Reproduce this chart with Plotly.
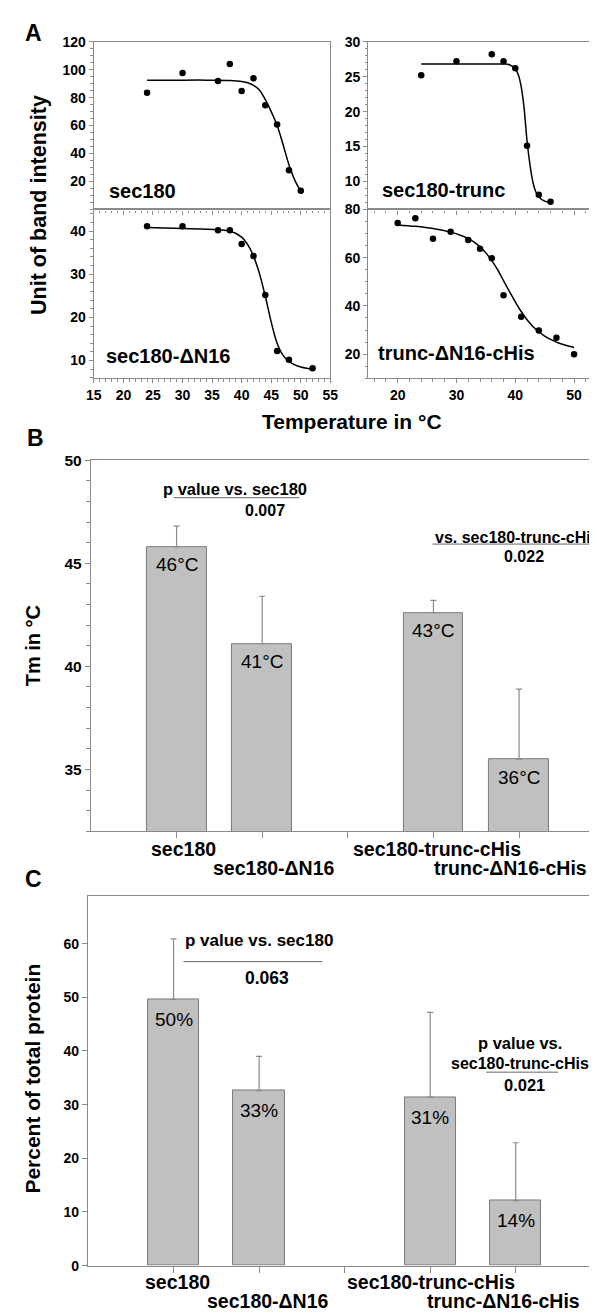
import plotly.graph_objects as go

W, H = 597, 1313
FONT = "Arial, Liberation Sans, sans-serif"
GRAY = "#8a8a8a"

# ---------------- Panel A data ----------------
t_sec180 = [24, 30, 36, 38, 40, 42, 44, 46, 48, 50]
v_sec180 = [83.5, 97.6, 91.8, 104, 84.7, 93.9, 74.6, 60.7, 28, 13.4]
fit_t_sec180 = [24, 30, 34, 38, 40, 41, 42, 43, 44, 45, 46, 47, 48, 49, 50]
fit_v_sec180 = [92.5, 92.5, 92.5, 92.3, 91.6, 90.6, 88.8, 85.5, 78.5, 70.0, 60.0, 46.5, 32.0, 20.8, 13.0]

t_trunc = [24, 30, 36, 38, 40, 42, 44, 46]
v_trunc = [25.2, 27.2, 28.2, 27.2, 26.2, 15.1, 8.1, 7.1]
fit_t_trunc = [24, 30, 36, 38, 39, 40, 40.5, 41, 41.5, 42, 42.5, 43, 43.5, 44, 45, 46]
fit_v_trunc = [26.8, 26.8, 26.8, 26.8, 26.7, 26.1, 25.3, 23.6, 20.5, 15.8, 12.4, 9.9, 8.5, 7.8, 7.2, 7.0]

t_dn16 = [24, 30, 36, 38, 40, 42, 44, 46, 48, 52]
v_dn16 = [41.1, 41.1, 40.2, 40.2, 37.0, 34.2, 25.2, 12.2, 10.2, 8.2]
fit_t_dn16 = [24, 30, 36, 38, 40, 41, 42, 43, 44, 45, 46, 47, 48, 49, 50, 51, 52]
fit_v_dn16 = [40.8, 40.6, 40.3, 40.0, 38.6, 36.9, 34.2, 30.2, 24.9, 18.9, 14.0, 11.2, 9.8, 9.0, 8.5, 8.2, 8.0]

t_tdc = [20, 23, 26, 29, 32, 34, 36, 38, 41, 44, 47, 50]
v_tdc = [74.4, 76.4, 67.9, 70.8, 67.3, 63.7, 59.8, 44.4, 35.5, 29.8, 26.8, 20.0]
fit_t_tdc = [20, 23, 26, 29, 31, 32, 33, 34, 35, 36, 37, 38, 39, 40, 41, 42, 43, 44, 45, 46, 47, 48, 49, 50]
fit_v_tdc = [73.6, 73.0, 72.1, 70.6, 69.0, 68.0, 66.5, 64.5, 62.0, 58.8, 55.0, 50.5, 46.0, 41.7,
             37.7, 34.3, 31.5, 29.3, 27.5, 26.1, 25.0, 24.1, 23.4, 22.8]

panel_names = ["sec180", "sec180-ΔN16", "sec180-trunc", "trunc-ΔN16-cHis"]

# ---------------- Panels B / C data ----------------
bar_cats = ["sec180", "sec180-ΔN16", "sec180-trunc-cHis", "trunc-ΔN16-cHis"]
bar_slots = [0, 1, 3, 4]
tm_vals = [45.8, 41.1, 42.6, 35.5]
tm_err = [1.0, 2.3, 0.6, 3.4]
tm_labels = ["46°C", "41°C", "43°C", "36°C"]
pct_vals = [49.6, 32.6, 31.4, 12.1]
pct_err = [11.3, 6.4, 15.8, 10.8]
pct_labels = ["50%", "33%", "31%", "14%"]

# label layout (styling only): staggered rows and small horizontal nudges in px
label_rows = [0, 1, 0, 1]
label_nudge = [7, 12, 4, -9]


def fx(px):
    return px / W


def fy(py):
    return 1 - py / H


def dom_x(a, b):
    return [a / W, b / W]


def dom_y(top, bottom):
    return [1 - bottom / H, 1 - top / H]


fig = go.Figure()

sets = [
    (t_sec180, v_sec180, fit_t_sec180, fit_v_sec180, "x", "y"),
    (t_dn16, v_dn16, fit_t_dn16, fit_v_dn16, "x2", "y2"),
    (t_trunc, v_trunc, fit_t_trunc, fit_v_trunc, "x3", "y3"),
    (t_tdc, v_tdc, fit_t_tdc, fit_v_tdc, "x4", "y4"),
]
for t, v, ft, fv, xa, ya in sets:
    fig.add_trace(go.Scatter(x=ft, y=fv, mode="lines", line=dict(color="black", width=1.5, shape="spline"),
                             xaxis=xa, yaxis=ya, showlegend=False, hoverinfo="skip"))
    fig.add_trace(go.Scatter(x=t, y=v, mode="markers", marker=dict(color="black", size=6.5),
                             xaxis=xa, yaxis=ya, showlegend=False))

bar_style = dict(marker=dict(color="#c0c0c0", line=dict(color="#7a7a7a", width=1)), showlegend=False)
fig.add_trace(go.Bar(x=bar_slots, y=tm_vals, width=0.7, xaxis="x5", yaxis="y5",
                     error_y=dict(type="data", symmetric=False, array=tm_err, arrayminus=[0] * len(tm_err),
                                  color=GRAY, thickness=1.2, width=3), **bar_style))
fig.add_trace(go.Bar(x=bar_slots, y=pct_vals, width=0.6, xaxis="x6", yaxis="y6",
                     error_y=dict(type="data", symmetric=False, array=pct_err, arrayminus=[0] * len(pct_err),
                                  color=GRAY, thickness=1.2, width=3), **bar_style))


def ax(**kw):
    base = dict(showgrid=False, zeroline=False, showline=True, linecolor=GRAY, linewidth=1.3,
                ticks="outside", ticklen=4, tickcolor=GRAY, tickwidth=1,
                tickfont=dict(family=FONT, size=14, color="black", weight="bold"), fixedrange=True)
    base.update(kw)
    return base


def minor(d, tick0=0):
    return dict(tickmode="linear", tick0=tick0, dtick=d, ticks="outside", ticklen=2.5, tickcolor=GRAY)


lx, rx = (80, 323), (362, 597)
ty, by = (25, 195), (195, 366)

fig.update_layout(
    width=W, height=H, margin=dict(l=0, r=0, t=0, b=0),
    paper_bgcolor="white", plot_bgcolor="white", bargap=0,
    font=dict(family=FONT, color="black"),
    # Panel A
    xaxis=ax(domain=dom_x(*lx), anchor="y", range=[15, 55], tickmode="linear", tick0=15, dtick=5,
             showticklabels=False, mirror=True, minor=minor(1)),
    yaxis=ax(domain=dom_y(*ty), anchor="x", range=[0, 120], tickvals=[20, 40, 60, 80, 100, 120],
             mirror=True, minor=minor(5)),
    xaxis2=ax(domain=dom_x(*lx), anchor="y2", range=[15, 55], tickmode="linear", tick0=15, dtick=5,
              mirror=True, minor=minor(1)),
    yaxis2=ax(domain=dom_y(*by), anchor="x2", range=[5.9, 45], tickvals=[10, 20, 30, 40],
              mirror=True, minor=minor(2)),
    xaxis3=ax(domain=dom_x(*rx), anchor="y3", range=[15, 53.9], tickmode="linear", tick0=10, dtick=10,
              showticklabels=False, mirror=True, minor=minor(2)),
    yaxis3=ax(domain=dom_y(*ty), anchor="x3", range=[6, 30], tickvals=[10, 15, 20, 25, 30],
              minor=minor(1)),
    xaxis4=ax(domain=dom_x(*rx), anchor="y4", range=[15, 53.9], tickmode="linear", tick0=10, dtick=10,
              mirror=True, minor=minor(2)),
    yaxis4=ax(domain=dom_y(*by), anchor="x4", range=[10, 80], tickvals=[20, 40, 60, 80],
              minor=minor(5)),
    # Panel B
    xaxis5=ax(domain=dom_x(77, 597), anchor="y5", range=[-1, 4.91], tickvals=[0, 1, 2, 3, 4],
              showticklabels=False, mirror=True, ticklen=6),
    yaxis5=ax(domain=dom_y(449, 825), anchor="x5", range=[32, 50], tickvals=[35, 40, 45, 50],
              ticklen=5, tickfont=dict(family=FONT, size=15.5, color="black", weight="bold"),
              minor=dict(tickmode="linear", tick0=0, dtick=1, ticks="outside", ticklen=4, tickcolor=GRAY)),
    # Panel C
    xaxis6=ax(domain=dom_x(74, 597), anchor="y6", range=[-1, 4.95], tickvals=[0, 1, 2, 3, 4],
              showticklabels=False, mirror=True, ticklen=6),
    yaxis6=ax(domain=dom_y(891, 1265), anchor="x6", range=[0, 68.8], tickvals=[0, 10, 20, 30, 40, 50, 60],
              ticklen=5, tickfont=dict(family=FONT, size=14, color="black", weight="bold")),
)

ann = []


def txt(text, x, y, size, bold=True, xanchor="center", angle=0, xref="paper", yref="paper",
        yshift=0, xshift=0):
    ann.append(dict(text=text, x=x, y=y, xref=xref, yref=yref, showarrow=False, xanchor=xanchor,
                    yanchor="middle", textangle=angle, yshift=yshift, xshift=xshift,
                    font=dict(family=FONT, size=size, color="black", weight="bold" if bold else "normal")))


# panel letters and titles
txt("A", fx(18), fy(16), 23)
txt("B", fx(20), fy(427), 23)
txt("C", fx(18), fy(873), 23)
txt("Unit of band intensity", fx(23), fy(190), 21.5, angle=-90)
txt("Temperature in °C", fx(345), fy(410), 21)
txt("Tm in °C", fx(17), fy(637), 20, angle=-90)
txt("Percent of total protein", fx(17), fy(1076), 21, angle=-90)

# in-plot names for panel A
name_pos = [(94, 176), (90, 343), (374, 175), (370, 340)]
for name, (px, py) in zip(panel_names, name_pos):
    txt(name, fx(px), fy(py), 20, xanchor="left")

# category labels under bars
for cat, slot, row, nudge in zip(bar_cats, bar_slots, label_rows, label_nudge):
    txt(cat, slot, fy(843 + 19 * row), 19.5, xref="x5", xshift=nudge)
    txt(cat, slot, fy(1282 + 19 * row), 19.5, xref="x6", xshift=nudge - 3)

# value labels inside bars
for slot, v, lab in zip(bar_slots, tm_vals, tm_labels):
    txt(lab, slot, v, 19, bold=False, xref="x5", yref="y5", yshift=-18)
for slot, v, lab in zip(bar_slots, pct_vals, pct_labels):
    txt(lab, slot, v, 19, bold=False, xref="x6", yref="y6", yshift=-20)

# p-value notes
txt("p value vs. sec180", fx(225), fy(478), 16.5)
txt("0.007", fx(256), fy(500), 16)
txt("vs. sec180-trunc-cHis", fx(428), fy(527), 16, xanchor="left")
txt("0.022", fx(522), fy(547), 16)
txt("p value vs. sec180", fx(172), fy(936), 17, xanchor="left")
txt("0.063", fx(258), fy(974), 17.5)
txt("p value vs.", fx(518), fy(1039), 16.5)
txt("sec180-trunc-cHis", fx(518), fy(1060), 16)
txt("0.021", fx(523), fy(1082), 16.5)

shapes = []
for (x0, x1, yy) in [(162, 291, 487), (428, 597, 534), (172, 315, 957), (483, 557, 1069)]:
    shapes.append(dict(type="line", xref="paper", yref="paper", x0=fx(x0), x1=fx(x1), y0=fy(yy), y1=fy(yy),
                       line=dict(color="#666666", width=1)))

fig.update_layout(annotations=ann, shapes=shapes)
fig.write_html("out.html")
